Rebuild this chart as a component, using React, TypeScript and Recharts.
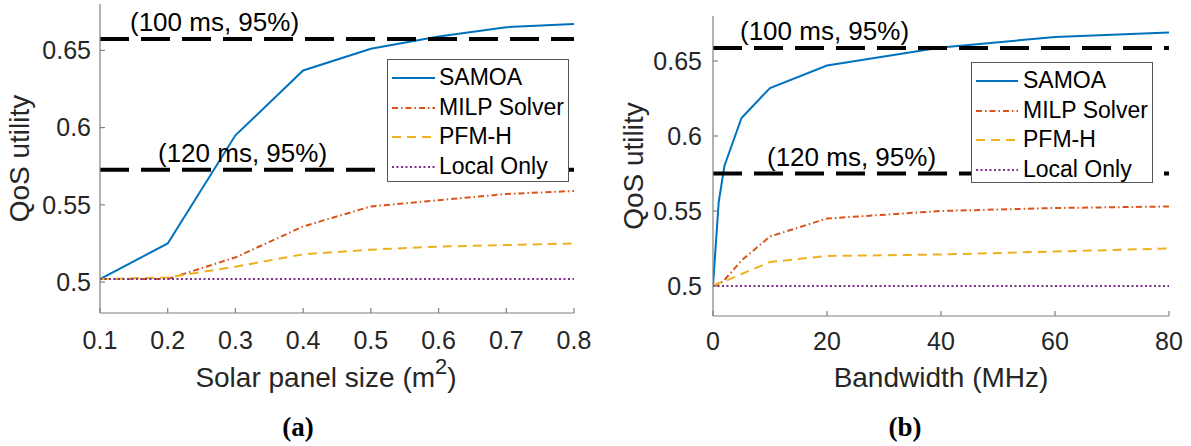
import React from 'react';
import { LineChart, Line, XAxis, YAxis, ReferenceLine, Legend } from 'recharts';

// ---------- data ----------
const solarSizes = [0.1, 0.2, 0.3, 0.4, 0.5, 0.6, 0.7, 0.8];
const solarSamoa = [0.502, 0.525, 0.595, 0.637, 0.651, 0.659, 0.665, 0.667];
const solarMilp = [0.502, 0.502, 0.516, 0.536, 0.549, 0.553, 0.557, 0.559];
const solarPfmh = [0.502, 0.503, 0.510, 0.518, 0.521, 0.523, 0.524, 0.525];
const solarLocal = [0.502, 0.502, 0.502, 0.502, 0.502, 0.502, 0.502, 0.502];
const solarTicks = [0.1, 0.2, 0.3, 0.4, 0.5, 0.6, 0.7, 0.8];

const bandwidths = [0, 1, 2, 5, 10, 20, 40, 60, 80];
const bwSamoa = [0.5, 0.556, 0.580, 0.612, 0.632, 0.647, 0.659, 0.666, 0.669];
const bwMilp = [0.5, 0.501, 0.504, 0.517, 0.533, 0.545, 0.550, 0.552, 0.553];
const bwPfmh = [0.5, 0.502, 0.503, 0.508, 0.516, 0.520, 0.521, 0.523, 0.525];
const bwLocal = [0.5, 0.5, 0.5, 0.5, 0.5, 0.5, 0.5, 0.5, 0.5];
const bwTicks = [0, 20, 40, 60, 80];

const yTicks = [0.5, 0.55, 0.6, 0.65];
const yDomain = [0.48, 0.68];

const solarThresholds = [0.6574, 0.5727];
const bwThresholds = [0.6587, 0.575];
const thresholdLabels = ['(100 ms, 95%)', '(120 ms, 95%)'];

const seriesNames = ['SAMOA', 'MILP Solver', 'PFM-H', 'Local Only'];
const seriesKeys = ['samoa', 'milp', 'pfmh', 'local'];
const seriesColors = ['#0072BD', '#D95319', '#EDB120', '#7E2F8E'];
const seriesDash = [undefined, '6 3 1.5 3', '9 6', '2 2.5'];

const solarData = solarSizes.map((x, i) => ({
  x,
  samoa: solarSamoa[i],
  milp: solarMilp[i],
  pfmh: solarPfmh[i],
  local: solarLocal[i],
}));
const bwData = bandwidths.map((x, i) => ({
  x,
  samoa: bwSamoa[i],
  milp: bwMilp[i],
  pfmh: bwPfmh[i],
  local: bwLocal[i],
}));

const FONT = '"Liberation Sans", Arial, Helvetica, sans-serif';
const AXIS = '#808080';
const TEXT = '#262626';

function LegendBox({ sampleW, gap }: { sampleW: number; gap: number }) {
  return (
    <div
      style={{
        background: '#fff',
        border: '1px solid #555',
        boxSizing: 'border-box',
        width: '100%',
        height: '100%',
        padding: '3px 0 0 4px',
        fontFamily: FONT,
      }}
    >
      {seriesNames.map((n, i) => (
        <div key={n} style={{ display: 'flex', alignItems: 'center', height: 29.7 }}>
          <svg width={sampleW} height={10} style={{ display: 'block' }}>
            <line x1={0} x2={sampleW} y1={5} y2={5} stroke={seriesColors[i]} strokeWidth={2} strokeDasharray={seriesDash[i]} />
          </svg>
          <span style={{ marginLeft: gap, fontSize: 23, color: '#000', lineHeight: '29.7px', whiteSpace: 'nowrap' }}>{n}</span>
        </div>
      ))}
    </div>
  );
}

const makeYLabel = (dx: number) => (props: any) => {
  const vb = props.viewBox || {};
  const cx = vb.x + dx;
  const cy = vb.y + vb.height / 2;
  return (
    <text x={cx} y={cy} transform={`rotate(-90 ${cx} ${cy})`} textAnchor="middle" fontSize={28} fill={TEXT} fontFamily={FONT}>
      QoS utility
    </text>
  );
};

const makeRefLabel = (text: string, dx: number) => (props: any) => {
  const vb = props.viewBox || {};
  return (
    <text x={vb.x + dx} y={vb.y - 8} fontSize={26} fill="#000" fontFamily={FONT}>
      {text}
    </text>
  );
};

const solarXLabel = (props: any) => {
  const vb = props.viewBox || {};
  return (
    <text x={vb.x + vb.width / 2 - 11} y={vb.y + 74} textAnchor="middle" fontSize={28} fill={TEXT} fontFamily={FONT}>
      <tspan>Solar panel size (m</tspan>
      <tspan dy={-13} fontSize={22}>2</tspan>
      <tspan dy={13}>)</tspan>
    </text>
  );
};

const bwXLabel = (props: any) => {
  const vb = props.viewBox || {};
  return (
    <text x={vb.x + vb.width / 2} y={vb.y + 71} textAnchor="middle" fontSize={28} fill={TEXT} fontFamily={FONT}>
      Bandwidth (MHz)
    </text>
  );
};

function Panel(props: {
  data: any[];
  width: number;
  margin: any;
  yAxisWidth: number;
  xDomain: number[];
  xTicks: number[];
  xTickMargin: number;
  yTickMargin: number;
  yLabelDx: number;
  xLabel: any;
  thresholds: number[];
  labelDx: number[];
  legendPos: { left: number; top: number; width: number; height: number };
  sampleW: number;
  sampleGap: number;
}) {
  const tickStyle = { fontSize: 25, fill: TEXT, fontFamily: FONT };
  return (
    <LineChart width={props.width} height={446} data={props.data} margin={props.margin}>
      <XAxis
        dataKey="x"
        type="number"
        domain={props.xDomain}
        ticks={props.xTicks}
        allowDataOverflow
        height={60}
        tickSize={-5}
        tickMargin={props.xTickMargin}
        axisLine={{ stroke: AXIS, strokeWidth: 1.2 }}
        tickLine={{ stroke: AXIS, strokeWidth: 1.2 }}
        tick={tickStyle}
        interval={0}
        label={props.xLabel}
      />
      <XAxis
        xAxisId="top"
        dataKey="x"
        type="number"
        orientation="top"
        domain={props.xDomain}
        ticks={props.xTicks}
        allowDataOverflow
        height={0}
        tickSize={-5}
        axisLine={{ stroke: AXIS, strokeWidth: 1.2 }}
        tickLine={{ stroke: AXIS, strokeWidth: 1.2 }}
        tick={false}
        interval={0}
      />
      <YAxis
        type="number"
        domain={yDomain}
        ticks={yTicks}
        allowDataOverflow
        width={props.yAxisWidth}
        tickSize={-5}
        tickMargin={props.yTickMargin}
        axisLine={{ stroke: AXIS, strokeWidth: 1.2 }}
        tickLine={{ stroke: AXIS, strokeWidth: 1.2 }}
        tick={tickStyle}
        interval={0}
        label={makeYLabel(props.yLabelDx)}
      />
      <YAxis
        yAxisId="right"
        orientation="right"
        type="number"
        domain={yDomain}
        ticks={yTicks}
        allowDataOverflow
        width={0}
        tickSize={-5}
        axisLine={{ stroke: AXIS, strokeWidth: 1.2 }}
        tickLine={{ stroke: AXIS, strokeWidth: 1.2 }}
        tick={false}
        interval={0}
      />
      {seriesKeys.map((k, i) => (
        <Line
          key={k}
          type="linear"
          dataKey={k}
          name={seriesNames[i]}
          stroke={seriesColors[i]}
          strokeWidth={2}
          strokeDasharray={seriesDash[i]}
          dot={false}
          activeDot={false}
          isAnimationActive={false}
        />
      ))}
      {props.thresholds.map((t, i) => (
        <ReferenceLine
          key={i}
          y={t}
          stroke="#000"
          strokeWidth={4}
          strokeDasharray="29 12"
          label={makeRefLabel(thresholdLabels[i], props.labelDx[i])}
        />
      ))}
      <Legend
        layout="vertical"
        align="center"
        verticalAlign="middle"
        wrapperStyle={{ position: 'absolute', ...props.legendPos }}
        content={() => <LegendBox sampleW={props.sampleW} gap={props.sampleGap} />}
      />
    </LineChart>
  );
}

export default function App() {
  return (
    <div style={{ position: 'absolute', left: 0, top: 0, width: 1191, height: 446, background: '#fff', fontFamily: FONT }}>
      <div style={{ position: 'absolute', left: 0, top: 0 }}>
        <Panel
          data={solarData}
          width={600}
          margin={{ top: 4, right: 26, bottom: 73, left: 0 }}
          yAxisWidth={100}
          xDomain={[0.1, 0.8]}
          xTicks={solarTicks}
          xTickMargin={23}
          yTickMargin={14}
          yLabelDx={29}
          xLabel={solarXLabel}
          thresholds={solarThresholds}
          labelDx={[30, 58]}
          legendPos={{ left: 387, top: 59, width: 182, height: 123 }}
          sampleW={43}
          sampleGap={4}
        />
      </div>
      <div style={{ position: 'absolute', left: 600, top: 0 }}>
        <Panel
          data={bwData}
          width={591}
          margin={{ top: 16, right: 22, bottom: 70, left: 0 }}
          yAxisWidth={113}
          xDomain={[0, 80]}
          xTicks={bwTicks}
          xTickMargin={21}
          yTickMargin={16}
          yLabelDx={43}
          xLabel={bwXLabel}
          thresholds={bwThresholds}
          labelDx={[27, 54]}
          legendPos={{ left: 371, top: 62, width: 182, height: 121 }}
          sampleW={42}
          sampleGap={5}
        />
      </div>
      <svg width={1191} height={446} style={{ position: 'absolute', left: 0, top: 0, pointerEvents: 'none' }}>
        <text x={298} y={436} textAnchor="middle" fontFamily='"Liberation Serif", "Times New Roman", serif' fontWeight="bold" fontSize={27} fill="#000">(a)</text>
        <text x={905} y={436} textAnchor="middle" fontFamily='"Liberation Serif", "Times New Roman", serif' fontWeight="bold" fontSize={27} fill="#000">(b)</text>
      </svg>
    </div>
  );
}
